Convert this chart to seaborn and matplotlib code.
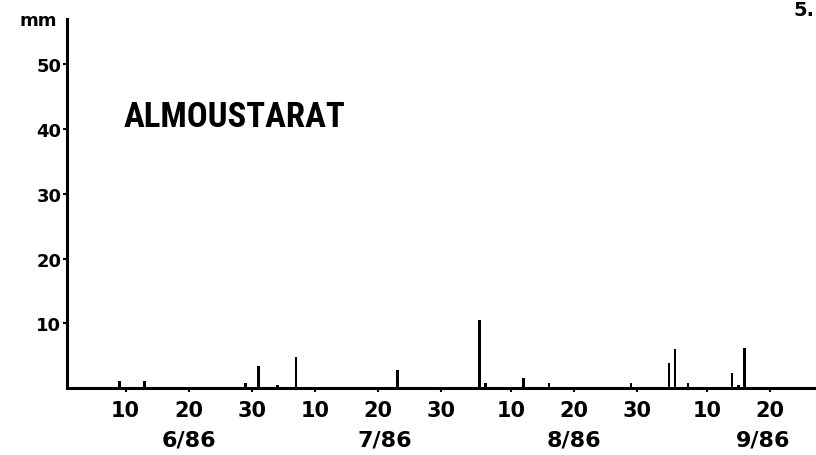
import matplotlib
matplotlib.use("Agg")
import matplotlib.pyplot as plt
import matplotlib.transforms as mtransforms
from matplotlib import font_manager
import seaborn as sns
import pandas as pd
import numpy as np

# ---- data (daily rainfall, mm) ----
dates = ["1986-06-09", "1986-06-13", "1986-06-29", "1986-07-01", "1986-07-04",
         "1986-07-07", "1986-07-23", "1986-08-05", "1986-08-06", "1986-08-12",
         "1986-08-16", "1986-08-29", "1986-09-04", "1986-09-05", "1986-09-07",
         "1986-09-14", "1986-09-15", "1986-09-16"]
rain_mm = [1.0, 1.0, 0.8, 3.4, 0.5,
           4.8, 2.8, 10.5, 0.8, 1.5,
           0.8, 0.8, 3.9, 6.0, 0.8,
           2.3, 0.5, 6.2]
y_ticks = [10, 20, 30, 40, 50]
tick_dates = ["1986-06-10", "1986-06-20", "1986-06-30", "1986-07-10", "1986-07-20",
              "1986-07-30", "1986-08-10", "1986-08-20", "1986-08-30", "1986-09-10",
              "1986-09-20"]
tick_labels = ["10", "20", "30", "10", "20", "30", "10", "20", "30", "10", "20"]
month_dates = ["1986-06-20", "1986-07-21", "1986-08-20", "1986-09-19"]
month_labels = ["6/86", "7/86", "8/86", "9/86"]
station = "ALMOUSTARAT"

start = pd.Timestamp("1986-06-01")
def day_index(ds):
    return [(pd.Timestamp(d) - start).days for d in ds]

df = pd.DataFrame({"day": day_index(dates), "mm": rain_mm})

sns.set_style("white")
plt.rcParams["font.family"] = ["DejaVu Sans"]
plt.rcParams["text.color"] = "black"
plt.rcParams["xtick.color"] = "black"
plt.rcParams["ytick.color"] = "black"

# pick a narrow bold face for the station name if one is installed
names = {f.name for f in font_manager.fontManager.ttflist}
narrow = None
for cand in ["Liberation Sans Narrow", "DejaVu Sans Condensed", "Roboto Condensed", "Open Sans Condensed"]:
    if cand in names:
        narrow = cand
        break

fig = plt.figure(figsize=(8.16, 4.56), dpi=100)
ax = fig.add_axes([0.082, 0.147, 0.918, 0.809])

sns.barplot(data=df, x="day", y="mm", native_scale=True, color="black",
            width=0.4, linewidth=0, saturation=1, ax=ax)

ax.set_xlim(-0.3, 118.3)
ax.set_ylim(0, 57)

for s in ["top", "right"]:
    ax.spines[s].set_visible(False)
for s in ["left", "bottom"]:
    ax.spines[s].set_linewidth(2.2)
    ax.spines[s].set_color("black")

ax.set_yticks(y_ticks)
ax.set_yticklabels([str(v) for v in y_ticks], fontsize=13, fontweight="bold")
ax.tick_params(axis="y", length=3, width=1.5, pad=1, direction="out", left=True)

ax.set_xticks(day_index(tick_dates))
ax.set_xticklabels(tick_labels, fontsize=15, fontweight="bold")
ax.tick_params(axis="x", length=3, width=1.5, pad=6, direction="out", bottom=True)

ax.set_xlabel("")
ax.set_ylabel("")

trans = mtransforms.blended_transform_factory(ax.transData, fig.transFigure)
for d, lab in zip(day_index(month_dates), month_labels):
    ax.text(d, 0.035, lab, transform=trans, ha="center", va="center",
            fontsize=16, fontweight="bold")

fig.text(0.047, 0.955, "mm", ha="center", va="center", fontsize=13, fontweight="bold")

if narrow is not None:
    ax.text(0.076, 0.735, station, transform=ax.transAxes, ha="left", va="center",
            fontsize=25, fontweight="bold", family=[narrow, "DejaVu Sans"])
else:
    ax.text(0.076, 0.735, station, transform=ax.transAxes, ha="left", va="center",
            fontsize=21, fontweight="bold", fontstretch="condensed")

fig.text(0.998, 0.998, "5.", ha="right", va="top", fontsize=14, fontweight="bold")

fig.savefig("out.png", dpi=100)
